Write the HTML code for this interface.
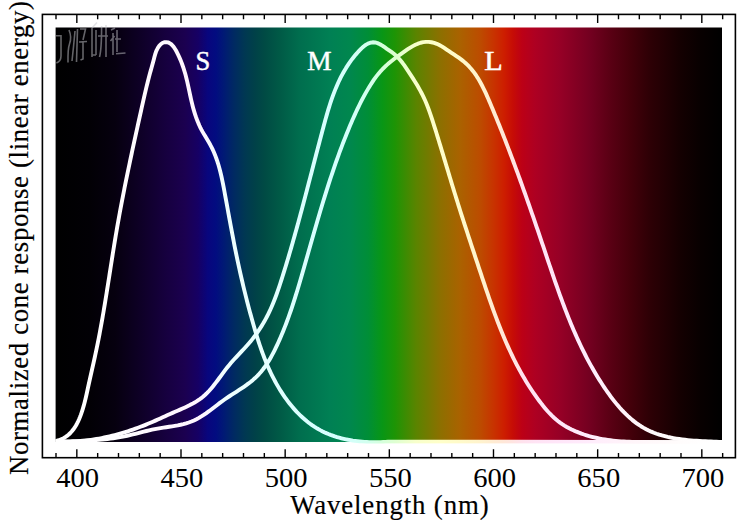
<!DOCTYPE html><html><head><meta charset="utf-8"><style>html,body{margin:0;padding:0;background:#fff;width:750px;height:528px;overflow:hidden}svg{display:block}</style></head><body><svg width="750" height="528" viewBox="0 0 750 528">
<defs><linearGradient id="g" x1="55.6" x2="722" y1="0" y2="0" gradientUnits="userSpaceOnUse"><stop offset="0.0006" stop-color="#000000"/><stop offset="0.0516" stop-color="#020005"/><stop offset="0.0891" stop-color="#06000f"/><stop offset="0.1267" stop-color="#0e0026"/><stop offset="0.1642" stop-color="#16003e"/><stop offset="0.1942" stop-color="#1b0050"/><stop offset="0.2137" stop-color="#160064"/><stop offset="0.2287" stop-color="#08067e"/><stop offset="0.2407" stop-color="#020c80"/><stop offset="0.2527" stop-color="#001a74"/><stop offset="0.2677" stop-color="#002a62"/><stop offset="0.2842" stop-color="#003852"/><stop offset="0.2992" stop-color="#004148"/><stop offset="0.3142" stop-color="#004b44"/><stop offset="0.3367" stop-color="#005a46"/><stop offset="0.3667" stop-color="#006e4e"/><stop offset="0.4118" stop-color="#008054"/><stop offset="0.4418" stop-color="#00874e"/><stop offset="0.4688" stop-color="#008e37"/><stop offset="0.4898" stop-color="#089616"/><stop offset="0.5093" stop-color="#1e9405"/><stop offset="0.5408" stop-color="#5a8400"/><stop offset="0.5768" stop-color="#8c7000"/><stop offset="0.6068" stop-color="#aa6200"/><stop offset="0.6369" stop-color="#bc4c00"/><stop offset="0.6579" stop-color="#c83200"/><stop offset="0.6729" stop-color="#cd1e00"/><stop offset="0.6864" stop-color="#c60c06"/><stop offset="0.6999" stop-color="#bc0016"/><stop offset="0.7194" stop-color="#ae0022"/><stop offset="0.7569" stop-color="#960026"/><stop offset="0.8019" stop-color="#730020"/><stop offset="0.8319" stop-color="#5a0014"/><stop offset="0.8619" stop-color="#44000a"/><stop offset="0.8920" stop-color="#2d0005"/><stop offset="0.9370" stop-color="#140001"/><stop offset="0.9670" stop-color="#080000"/><stop offset="1.0000" stop-color="#000000"/></linearGradient><linearGradient id="gs" x1="55.6" x2="722" y1="0" y2="0" gradientUnits="userSpaceOnUse"><stop offset="0.0006" stop-color="#ffffff"/><stop offset="0.0516" stop-color="#fffeff"/><stop offset="0.0891" stop-color="#fffdff"/><stop offset="0.1267" stop-color="#fffbff"/><stop offset="0.1642" stop-color="#fff8ff"/><stop offset="0.1942" stop-color="#fff6ff"/><stop offset="0.2137" stop-color="#fff6ff"/><stop offset="0.2287" stop-color="#f9f8ff"/><stop offset="0.2407" stop-color="#f5faff"/><stop offset="0.2527" stop-color="#f1feff"/><stop offset="0.2677" stop-color="#edffff"/><stop offset="0.2842" stop-color="#eaffff"/><stop offset="0.2992" stop-color="#e8ffff"/><stop offset="0.3142" stop-color="#e5ffff"/><stop offset="0.3367" stop-color="#e1ffff"/><stop offset="0.3667" stop-color="#daffff"/><stop offset="0.4118" stop-color="#d5ffff"/><stop offset="0.4418" stop-color="#d3fffa"/><stop offset="0.4688" stop-color="#d2ffee"/><stop offset="0.4898" stop-color="#d5ffdc"/><stop offset="0.5093" stop-color="#deffd1"/><stop offset="0.5408" stop-color="#f8ffcb"/><stop offset="0.5768" stop-color="#ffffc9"/><stop offset="0.6068" stop-color="#fffac9"/><stop offset="0.6369" stop-color="#fff3cd"/><stop offset="0.6579" stop-color="#ffebd2"/><stop offset="0.6729" stop-color="#ffe7d8"/><stop offset="0.6864" stop-color="#ffe4e1"/><stop offset="0.6999" stop-color="#ffe2ed"/><stop offset="0.7194" stop-color="#ffe3f4"/><stop offset="0.7569" stop-color="#ffe6f9"/><stop offset="0.8019" stop-color="#ffecfc"/><stop offset="0.8319" stop-color="#fff0fa"/><stop offset="0.8619" stop-color="#fff4f9"/><stop offset="0.8920" stop-color="#fff8fa"/><stop offset="0.9370" stop-color="#fffcfc"/><stop offset="0.9670" stop-color="#fffefe"/><stop offset="1.0000" stop-color="#ffffff"/></linearGradient><clipPath id="c"><rect x="55.6" y="27.5" width="666.4" height="416.0"/></clipPath></defs>
<rect width="750" height="528" fill="#fff"/>
<rect x="55.6" y="27.5" width="666.4" height="414.5" fill="url(#g)"/>
<g clip-path="url(#c)" fill="none" stroke="url(#gs)" stroke-width="3.9" stroke-linejoin="round" stroke-linecap="round"><path d="M45,441.35 L56.40,440.85 L58.80,440.21 L61.05,439.39 L63.17,438.40 L65.15,437.26 L67.01,435.96 L68.74,434.53 L70.36,432.98 L71.87,431.30 L73.28,429.53 L74.59,427.66 L75.81,425.71 L76.95,423.68 L78.00,421.60 L78.98,419.46 L79.89,417.28 L80.73,415.08 L81.52,412.85 L82.26,410.62 L82.95,408.39 L83.61,406.15 L84.22,403.92 L84.80,401.69 L85.35,399.45 L85.89,397.22 L86.40,394.98 L86.90,392.74 L87.39,390.51 L87.87,388.26 L88.36,386.02 L88.85,383.78 L89.35,381.53 L89.85,379.29 L90.35,377.04 L90.86,374.79 L91.37,372.53 L91.87,370.28 L92.38,368.02 L92.89,365.76 L93.40,363.50 L93.90,361.24 L94.40,358.98 L94.90,356.72 L95.39,354.45 L95.87,352.19 L96.35,349.92 L96.82,347.65 L97.29,345.38 L97.75,343.11 L98.20,340.84 L98.65,338.57 L99.09,336.29 L99.52,334.02 L99.95,331.74 L100.38,329.47 L100.80,327.19 L101.21,324.91 L101.62,322.63 L102.03,320.35 L102.43,318.07 L102.82,315.79 L103.22,313.51 L103.61,311.23 L103.99,308.94 L104.38,306.66 L104.76,304.37 L105.13,302.09 L105.51,299.80 L105.88,297.52 L106.25,295.23 L106.62,292.95 L106.98,290.66 L107.34,288.37 L107.71,286.09 L108.07,283.80 L108.43,281.51 L108.79,279.23 L109.15,276.94 L109.51,274.65 L109.86,272.36 L110.22,270.08 L110.58,267.79 L110.94,265.50 L111.30,263.21 L111.66,260.93 L112.02,258.64 L112.38,256.35 L112.74,254.07 L113.11,251.78 L113.48,249.49 L113.84,247.21 L114.22,244.92 L114.59,242.64 L114.96,240.35 L115.34,238.07 L115.72,235.79 L116.11,233.51 L116.50,231.22 L116.89,228.94 L117.28,226.66 L117.68,224.38 L118.09,222.10 L118.49,219.82 L118.90,217.55 L119.32,215.27 L119.73,212.99 L120.16,210.72 L120.58,208.44 L121.01,206.17 L121.44,203.89 L121.87,201.62 L122.31,199.35 L122.75,197.07 L123.19,194.80 L123.63,192.53 L124.08,190.26 L124.53,187.99 L124.99,185.72 L125.44,183.45 L125.90,181.18 L126.36,178.91 L126.83,176.64 L127.29,174.37 L127.76,172.10 L128.23,169.84 L128.70,167.57 L129.18,165.30 L129.65,163.04 L130.13,160.77 L130.61,158.50 L131.09,156.24 L131.58,153.97 L132.06,151.71 L132.55,149.44 L133.04,147.18 L133.53,144.91 L134.02,142.65 L134.51,140.38 L135.00,138.12 L135.50,135.86 L135.99,133.59 L136.49,131.33 L136.99,129.07 L137.49,126.80 L137.99,124.54 L138.49,122.28 L138.99,120.01 L139.49,117.75 L139.99,115.48 L140.50,113.22 L141.00,110.96 L141.50,108.69 L142.01,106.43 L142.51,104.17 L143.02,101.91 L143.53,99.65 L144.04,97.39 L144.56,95.13 L145.08,92.88 L145.61,90.63 L146.14,88.38 L146.68,86.14 L147.23,83.91 L147.78,81.68 L148.35,79.45 L148.92,77.24 L149.51,75.03 L150.11,72.83 L150.72,70.63 L151.33,68.43 L151.95,66.22 L152.57,63.98 L153.19,61.72 L153.81,59.41 L154.42,57.05 L155.07,54.68 L155.81,52.32 L156.73,50.04 L157.87,47.88 L159.21,45.93 L160.73,44.29 L162.42,43.05 L164.25,42.30 L166.15,42.08 L168.03,42.38 L169.79,43.19 L171.43,44.43 L172.96,46.04 L174.39,47.94 L175.71,50.05 L176.94,52.29 L178.08,54.59 L179.14,56.87 L180.13,59.12 L181.05,61.34 L181.90,63.54 L182.69,65.71 L183.43,67.88 L184.12,70.03 L184.77,72.19 L185.38,74.34 L185.96,76.51 L186.51,78.69 L187.04,80.88 L187.55,83.11 L188.05,85.35 L188.54,87.62 L189.03,89.90 L189.51,92.19 L190.00,94.48 L190.50,96.78 L191.01,99.08 L191.54,101.37 L192.09,103.64 L192.66,105.91 L193.25,108.16 L193.88,110.39 L194.54,112.60 L195.24,114.80 L195.97,116.98 L196.75,119.13 L197.58,121.27 L198.45,123.38 L199.38,125.48 L200.36,127.55 L201.40,129.59 L202.50,131.62 L203.65,133.62 L204.83,135.61 L206.02,137.60 L207.22,139.58 L208.41,141.57 L209.57,143.58 L210.69,145.60 L211.75,147.64 L212.76,149.71 L213.71,151.81 L214.61,153.92 L215.46,156.06 L216.26,158.22 L217.02,160.39 L217.74,162.59 L218.42,164.79 L219.06,167.01 L219.67,169.25 L220.25,171.50 L220.80,173.75 L221.33,176.02 L221.83,178.29 L222.32,180.57 L222.79,182.85 L223.24,185.14 L223.68,187.43 L224.11,189.72 L224.54,192.01 L224.96,194.30 L225.38,196.59 L225.80,198.87 L226.22,201.15 L226.64,203.43 L227.05,205.71 L227.47,207.99 L227.89,210.26 L228.30,212.53 L228.72,214.81 L229.13,217.08 L229.55,219.35 L229.97,221.61 L230.38,223.88 L230.80,226.15 L231.23,228.41 L231.65,230.68 L232.08,232.94 L232.51,235.21 L232.94,237.47 L233.37,239.73 L233.81,242.00 L234.25,244.26 L234.70,246.52 L235.15,248.79 L235.61,251.05 L236.07,253.32 L236.53,255.58 L237.00,257.85 L237.47,260.12 L237.96,262.38 L238.44,264.65 L238.93,266.92 L239.43,269.19 L239.94,271.46 L240.44,273.73 L240.96,276.00 L241.48,278.27 L242.01,280.54 L242.54,282.80 L243.07,285.07 L243.62,287.34 L244.16,289.60 L244.72,291.86 L245.28,294.12 L245.84,296.38 L246.41,298.64 L246.99,300.89 L247.57,303.15 L248.16,305.40 L248.75,307.64 L249.35,309.89 L249.95,312.13 L250.56,314.37 L251.17,316.60 L251.79,318.83 L252.42,321.06 L253.05,323.28 L253.69,325.50 L254.33,327.72 L254.98,329.93 L255.63,332.13 L256.30,334.33 L256.97,336.53 L257.66,338.72 L258.36,340.91 L259.07,343.09 L259.79,345.26 L260.53,347.43 L261.28,349.60 L262.05,351.75 L262.84,353.91 L263.64,356.05 L264.47,358.19 L265.31,360.32 L266.18,362.45 L267.06,364.57 L267.97,366.68 L268.91,368.79 L269.87,370.89 L270.85,372.98 L271.86,375.06 L272.90,377.14 L273.97,379.21 L275.07,381.27 L276.20,383.32 L277.36,385.36 L278.54,387.39 L279.76,389.40 L281.01,391.40 L282.29,393.38 L283.60,395.34 L284.94,397.28 L286.31,399.20 L287.71,401.09 L289.14,402.96 L290.60,404.80 L292.09,406.61 L293.61,408.38 L295.17,410.13 L296.75,411.84 L298.37,413.51 L300.01,415.15 L301.69,416.74 L303.40,418.29 L305.14,419.80 L306.91,421.27 L308.71,422.69 L310.54,424.06 L312.41,425.38 L314.30,426.65 L316.23,427.86 L318.19,429.02 L320.18,430.12 L322.20,431.17 L324.24,432.16 L326.32,433.10 L328.42,433.99 L330.55,434.83 L332.70,435.61 L334.87,436.35 L337.06,437.04 L339.27,437.68 L341.49,438.27 L343.74,438.82 L346.00,439.32 L348.27,439.78 L350.56,440.19 L352.85,440.57 L355.16,440.90 L357.48,441.19 L359.80,441.44 L362.13,441.66 L364.46,441.84 L366.79,441.98 L369.13,442.08 L371.47,442.15 L373.81,442.19 L376.14,442.20 L378.47,442.17 L380.80,442.11 L383.12,442.02 L385.43,441.91 L387.74,441.76 L390.03,441.59 L730,442.09"/><path d="M45,441.84 L55.97,441.34 L58.69,441.48 L61.40,441.57 L64.11,441.62 L66.82,441.63 L69.53,441.59 L72.23,441.51 L74.93,441.39 L77.63,441.23 L80.32,441.03 L83.01,440.79 L85.69,440.51 L88.37,440.20 L91.04,439.84 L93.71,439.45 L96.37,439.02 L99.03,438.56 L101.68,438.06 L104.32,437.53 L106.96,436.96 L109.59,436.36 L112.21,435.73 L114.82,435.06 L117.43,434.37 L120.03,433.64 L122.61,432.88 L125.19,432.10 L127.77,431.28 L130.33,430.44 L132.88,429.57 L135.42,428.67 L137.95,427.74 L140.47,426.79 L142.98,425.82 L145.48,424.82 L147.97,423.79 L150.45,422.75 L152.91,421.68 L155.37,420.60 L157.83,419.51 L160.28,418.41 L162.74,417.30 L165.19,416.19 L167.65,415.07 L170.12,413.97 L172.59,412.87 L175.07,411.78 L177.56,410.69 L180.06,409.61 L182.54,408.52 L185.01,407.41 L187.46,406.27 L189.88,405.08 L192.25,403.84 L194.58,402.55 L196.86,401.17 L199.07,399.72 L201.20,398.17 L203.26,396.52 L205.23,394.76 L207.14,392.92 L208.98,390.99 L210.76,388.98 L212.50,386.92 L214.20,384.80 L215.86,382.64 L217.51,380.46 L219.14,378.25 L220.76,376.03 L222.39,373.81 L224.03,371.60 L225.69,369.42 L227.38,367.27 L229.10,365.15 L230.86,363.08 L232.64,361.05 L234.45,359.04 L236.28,357.06 L238.12,355.10 L239.96,353.14 L241.80,351.18 L243.62,349.22 L245.44,347.25 L247.23,345.26 L248.99,343.24 L250.72,341.19 L252.41,339.11 L254.06,336.99 L255.67,334.83 L257.24,332.64 L258.76,330.42 L260.24,328.17 L261.68,325.89 L263.08,323.59 L264.43,321.25 L265.74,318.89 L267.01,316.51 L268.23,314.11 L269.41,311.68 L270.54,309.23 L271.63,306.77 L272.69,304.29 L273.71,301.79 L274.70,299.28 L275.65,296.76 L276.59,294.23 L277.49,291.68 L278.38,289.13 L279.24,286.57 L280.10,284.00 L280.93,281.43 L281.76,278.85 L282.58,276.28 L283.39,273.70 L284.19,271.12 L284.99,268.54 L285.78,265.96 L286.56,263.37 L287.34,260.79 L288.12,258.20 L288.89,255.62 L289.65,253.03 L290.41,250.44 L291.16,247.85 L291.91,245.26 L292.65,242.67 L293.39,240.08 L294.12,237.49 L294.85,234.89 L295.58,232.30 L296.30,229.70 L297.02,227.11 L297.73,224.51 L298.44,221.91 L299.15,219.31 L299.85,216.71 L300.56,214.11 L301.26,211.51 L301.95,208.91 L302.65,206.30 L303.34,203.70 L304.03,201.09 L304.72,198.49 L305.40,195.88 L306.09,193.28 L306.77,190.67 L307.45,188.06 L308.13,185.45 L308.81,182.84 L309.49,180.23 L310.17,177.62 L310.85,175.01 L311.53,172.40 L312.20,169.79 L312.88,167.17 L313.56,164.56 L314.24,161.95 L314.92,159.33 L315.60,156.72 L316.28,154.10 L316.96,151.49 L317.64,148.87 L318.33,146.25 L319.01,143.64 L319.70,141.02 L320.39,138.40 L321.08,135.78 L321.78,133.16 L322.47,130.55 L323.17,127.93 L323.88,125.31 L324.59,122.69 L325.30,120.08 L326.03,117.47 L326.78,114.86 L327.53,112.27 L328.30,109.68 L329.10,107.09 L329.91,104.52 L330.75,101.96 L331.61,99.41 L332.50,96.88 L333.42,94.35 L334.37,91.85 L335.36,89.36 L336.38,86.89 L337.44,84.43 L338.53,82.00 L339.68,79.59 L340.86,77.20 L342.09,74.83 L343.38,72.49 L344.71,70.18 L346.09,67.88 L347.54,65.62 L349.04,63.37 L350.61,61.15 L352.24,58.95 L353.95,56.77 L355.72,54.61 L357.57,52.48 L359.50,50.37 L361.51,48.34 L363.59,46.49 L365.74,44.88 L367.97,43.59 L370.26,42.72 L372.63,42.32 L375.05,42.48 L377.50,43.14 L379.94,44.21 L382.30,45.59 L384.59,47.17 L386.85,48.80 L389.14,50.37 L391.39,51.93 L393.56,53.54 L395.60,55.25 L397.51,57.07 L399.30,58.99 L400.99,60.99 L402.61,63.06 L404.17,65.19 L405.68,67.37 L407.18,69.59 L408.66,71.82 L410.15,74.08 L411.63,76.35 L413.10,78.64 L414.56,80.95 L415.99,83.27 L417.39,85.61 L418.76,87.98 L420.09,90.36 L421.38,92.75 L422.61,95.17 L423.80,97.61 L424.92,100.06 L425.99,102.53 L427.01,105.02 L427.98,107.52 L428.92,110.03 L429.83,112.55 L430.70,115.09 L431.55,117.63 L432.39,120.18 L433.21,122.74 L434.02,125.30 L434.83,127.86 L435.63,130.43 L436.43,133.00 L437.23,135.57 L438.02,138.15 L438.81,140.73 L439.60,143.31 L440.39,145.89 L441.17,148.47 L441.96,151.06 L442.74,153.64 L443.52,156.23 L444.30,158.82 L445.08,161.41 L445.86,163.99 L446.64,166.58 L447.42,169.17 L448.20,171.76 L448.98,174.35 L449.76,176.94 L450.54,179.53 L451.32,182.12 L452.11,184.70 L452.90,187.29 L453.69,189.87 L454.48,192.45 L455.28,195.03 L456.08,197.61 L456.88,200.19 L457.68,202.76 L458.49,205.33 L459.31,207.90 L460.12,210.47 L460.94,213.04 L461.76,215.60 L462.58,218.16 L463.41,220.73 L464.24,223.29 L465.07,225.85 L465.90,228.40 L466.74,230.96 L467.57,233.52 L468.41,236.08 L469.25,238.63 L470.10,241.19 L470.94,243.75 L471.78,246.30 L472.63,248.86 L473.48,251.42 L474.32,253.97 L475.17,256.53 L476.02,259.09 L476.87,261.65 L477.72,264.21 L478.57,266.77 L479.42,269.34 L480.28,271.90 L481.13,274.47 L481.98,277.03 L482.84,279.60 L483.69,282.17 L484.55,284.73 L485.42,287.30 L486.28,289.86 L487.16,292.43 L488.03,294.99 L488.92,297.55 L489.81,300.11 L490.70,302.66 L491.60,305.22 L492.51,307.77 L493.43,310.31 L494.36,312.85 L495.29,315.39 L496.24,317.92 L497.20,320.45 L498.16,322.98 L499.14,325.49 L500.13,328.01 L501.13,330.51 L502.15,333.01 L503.18,335.50 L504.22,337.99 L505.28,340.47 L506.35,342.94 L507.44,345.40 L508.54,347.86 L509.66,350.30 L510.80,352.74 L511.95,355.17 L513.12,357.58 L514.31,359.99 L515.52,362.39 L516.75,364.78 L518.00,367.15 L519.28,369.52 L520.57,371.87 L521.88,374.21 L523.22,376.54 L524.58,378.86 L525.96,381.16 L527.36,383.46 L528.79,385.73 L530.25,388.00 L531.73,390.25 L533.24,392.48 L534.77,394.70 L536.33,396.91 L537.92,399.10 L539.53,401.27 L541.18,403.43 L542.85,405.57 L544.57,407.67 L546.32,409.74 L548.11,411.77 L549.96,413.74 L551.85,415.66 L553.80,417.51 L555.80,419.30 L557.87,421.00 L560.01,422.62 L562.21,424.15 L564.47,425.60 L566.78,426.96 L569.15,428.25 L571.55,429.46 L574.00,430.60 L576.47,431.67 L578.97,432.67 L581.50,433.61 L584.04,434.49 L586.61,435.30 L589.19,436.06 L591.80,436.76 L594.41,437.41 L597.05,438.01 L599.69,438.55 L602.35,439.05 L605.02,439.50 L607.70,439.90 L610.38,440.26 L613.07,440.59 L615.77,440.87 L618.46,441.11 L621.16,441.33 L623.86,441.50 L626.56,441.65 L629.26,441.77 L631.95,441.86 L634.64,441.93 L637.32,441.97 L639.99,441.99 L730,442.49"/><path d="M45,442.03 L56.01,441.53 L58.84,441.50 L61.68,441.47 L64.52,441.43 L67.37,441.39 L70.23,441.33 L73.09,441.27 L75.96,441.19 L78.83,441.09 L81.71,440.98 L84.58,440.86 L87.46,440.71 L90.33,440.54 L93.20,440.35 L96.07,440.14 L98.94,439.90 L101.80,439.63 L104.66,439.34 L107.51,439.01 L110.35,438.66 L113.18,438.26 L116.00,437.84 L118.82,437.37 L121.62,436.87 L124.41,436.33 L127.18,435.74 L129.94,435.11 L132.69,434.45 L135.43,433.77 L138.18,433.07 L140.92,432.37 L143.67,431.67 L146.43,430.99 L149.20,430.33 L151.99,429.70 L154.80,429.11 L157.63,428.58 L160.49,428.09 L163.37,427.63 L166.25,427.20 L169.14,426.76 L172.02,426.31 L174.89,425.84 L177.74,425.32 L180.55,424.74 L183.34,424.09 L186.08,423.35 L188.77,422.51 L191.40,421.54 L193.97,420.45 L196.47,419.22 L198.93,417.88 L201.33,416.44 L203.70,414.91 L206.04,413.31 L208.35,411.65 L210.65,409.94 L212.94,408.20 L215.24,406.45 L217.53,404.68 L219.85,402.93 L222.18,401.20 L224.55,399.51 L226.94,397.86 L229.37,396.25 L231.80,394.66 L234.25,393.09 L236.69,391.52 L239.12,389.95 L241.53,388.36 L243.92,386.76 L246.26,385.12 L248.56,383.43 L250.80,381.70 L252.98,379.90 L255.08,378.04 L257.10,376.09 L259.04,374.06 L260.89,371.95 L262.67,369.76 L264.37,367.51 L266.00,365.19 L267.57,362.82 L269.08,360.40 L270.53,357.93 L271.93,355.42 L273.28,352.88 L274.59,350.31 L275.86,347.72 L277.09,345.11 L278.30,342.49 L279.47,339.86 L280.62,337.23 L281.75,334.58 L282.85,331.93 L283.92,329.28 L284.97,326.61 L286.01,323.94 L287.01,321.26 L288.00,318.58 L288.97,315.89 L289.93,313.19 L290.86,310.49 L291.78,307.79 L292.68,305.08 L293.57,302.36 L294.45,299.65 L295.31,296.92 L296.16,294.20 L297.00,291.47 L297.83,288.73 L298.65,286.00 L299.47,283.26 L300.27,280.52 L301.08,277.77 L301.87,275.03 L302.67,272.28 L303.46,269.53 L304.24,266.79 L305.03,264.04 L305.82,261.28 L306.60,258.53 L307.39,255.78 L308.17,253.03 L308.95,250.27 L309.74,247.52 L310.52,244.77 L311.31,242.01 L312.09,239.26 L312.88,236.51 L313.67,233.75 L314.46,231.00 L315.26,228.25 L316.06,225.50 L316.86,222.75 L317.66,220.00 L318.47,217.25 L319.28,214.51 L320.09,211.76 L320.91,209.02 L321.74,206.27 L322.57,203.53 L323.40,200.79 L324.24,198.06 L325.09,195.32 L325.94,192.59 L326.80,189.86 L327.67,187.13 L328.54,184.41 L329.42,181.69 L330.31,178.97 L331.21,176.25 L332.11,173.54 L333.03,170.83 L333.95,168.12 L334.88,165.42 L335.82,162.72 L336.77,160.02 L337.74,157.33 L338.71,154.64 L339.69,151.95 L340.68,149.27 L341.69,146.60 L342.70,143.92 L343.73,141.26 L344.77,138.59 L345.82,135.94 L346.89,133.28 L347.97,130.64 L349.06,127.99 L350.17,125.36 L351.29,122.72 L352.42,120.10 L353.57,117.48 L354.74,114.87 L355.93,112.26 L357.14,109.67 L358.37,107.09 L359.63,104.51 L360.91,101.96 L362.22,99.41 L363.56,96.88 L364.93,94.36 L366.34,91.87 L367.78,89.38 L369.25,86.92 L370.77,84.48 L372.33,82.08 L373.94,79.71 L375.60,77.39 L377.32,75.13 L379.11,72.93 L380.96,70.80 L382.88,68.74 L384.87,66.77 L386.93,64.86 L389.06,63.01 L391.24,61.21 L393.48,59.45 L395.76,57.72 L398.09,56.01 L400.46,54.31 L402.87,52.61 L405.31,50.91 L407.78,49.23 L410.28,47.63 L412.81,46.14 L415.38,44.81 L417.98,43.67 L420.62,42.77 L423.29,42.16 L426.00,41.87 L428.73,41.90 L431.45,42.25 L434.14,42.89 L436.77,43.81 L439.32,44.99 L441.79,46.39 L444.20,47.94 L446.60,49.57 L449.02,51.20 L451.46,52.82 L453.90,54.42 L456.33,56.04 L458.72,57.68 L461.06,59.37 L463.31,61.13 L465.46,62.97 L467.51,64.90 L469.45,66.92 L471.30,69.01 L473.06,71.18 L474.73,73.42 L476.32,75.73 L477.84,78.09 L479.30,80.51 L480.69,82.97 L482.03,85.48 L483.32,88.02 L484.57,90.60 L485.79,93.20 L486.97,95.83 L488.13,98.47 L489.27,101.12 L490.40,103.78 L491.52,106.44 L492.63,109.10 L493.74,111.76 L494.84,114.42 L495.94,117.08 L497.03,119.74 L498.11,122.40 L499.19,125.07 L500.26,127.73 L501.32,130.40 L502.38,133.07 L503.43,135.73 L504.48,138.40 L505.52,141.07 L506.56,143.74 L507.59,146.41 L508.62,149.09 L509.64,151.76 L510.66,154.43 L511.67,157.11 L512.68,159.78 L513.68,162.46 L514.68,165.14 L515.67,167.82 L516.66,170.50 L517.65,173.18 L518.63,175.86 L519.61,178.54 L520.58,181.23 L521.55,183.91 L522.52,186.60 L523.48,189.29 L524.44,191.97 L525.39,194.66 L526.35,197.35 L527.30,200.05 L528.24,202.74 L529.19,205.43 L530.13,208.13 L531.07,210.82 L532.00,213.52 L532.94,216.22 L533.87,218.92 L534.80,221.62 L535.73,224.32 L536.65,227.03 L537.58,229.73 L538.50,232.44 L539.42,235.14 L540.34,237.85 L541.25,240.56 L542.17,243.27 L543.08,245.99 L544.00,248.70 L544.91,251.41 L545.82,254.13 L546.73,256.85 L547.64,259.56 L548.56,262.28 L549.47,265.00 L550.39,267.71 L551.31,270.43 L552.24,273.14 L553.16,275.85 L554.10,278.57 L555.03,281.28 L555.98,283.98 L556.93,286.69 L557.88,289.39 L558.84,292.09 L559.81,294.79 L560.79,297.48 L561.78,300.17 L562.77,302.85 L563.78,305.53 L564.79,308.21 L565.82,310.88 L566.86,313.54 L567.91,316.20 L568.97,318.86 L570.04,321.51 L571.13,324.15 L572.23,326.78 L573.35,329.41 L574.48,332.03 L575.63,334.64 L576.79,337.25 L577.97,339.85 L579.17,342.44 L580.38,345.02 L581.62,347.59 L582.87,350.15 L584.14,352.71 L585.43,355.25 L586.74,357.79 L588.07,360.31 L589.43,362.83 L590.80,365.33 L592.20,367.82 L593.62,370.31 L595.06,372.78 L596.53,375.24 L598.02,377.68 L599.54,380.12 L601.09,382.54 L602.66,384.96 L604.25,387.35 L605.88,389.74 L607.53,392.11 L609.21,394.46 L610.92,396.80 L612.66,399.10 L614.44,401.38 L616.26,403.62 L618.11,405.83 L619.99,407.99 L621.92,410.11 L623.89,412.18 L625.90,414.19 L627.96,416.15 L630.06,418.05 L632.21,419.87 L634.40,421.63 L636.65,423.32 L638.95,424.93 L641.30,426.46 L643.70,427.90 L646.16,429.25 L648.68,430.51 L651.26,431.67 L653.88,432.75 L656.56,433.74 L659.27,434.64 L662.03,435.47 L664.83,436.22 L667.65,436.91 L670.50,437.53 L673.38,438.08 L676.27,438.58 L679.18,439.03 L682.10,439.42 L685.02,439.77 L687.95,440.08 L690.88,440.36 L693.79,440.60 L696.70,440.81 L699.59,440.99 L702.47,441.16 L705.32,441.31 L708.14,441.44 L710.93,441.57 L713.69,441.69 L716.41,441.81 L719.08,441.94 L721.70,442.07 L730,442.57"/></g>
<path d="M56,35.7 L61,35.7 L61,56 C61,59 59,62 56.4,63 M69,30 C71.5,36 71,40 69.5,44 C68,48 67.8,52 68,62.5 M75,31 C74,42 73,52 72,61 M77.5,29 L76.5,62 M80,29 L85.5,29 L83,40 M79,42 L87,41.5 M83,42 L83,59 L80.5,60 M97,22.5 L92,28 M92,28 L92,57 M96,30 L96,55 M92,55 L96,55 M98,36 L108,36 M101.6,26 C101.6,40 101.5,50 99.5,57 M106,25 L106,57 M111,30 L115,28 M113,33 L113,55 M110.5,41 L114.5,36 M117,30 L117,52 M115,39 L121,39 M116,53.7 L125.5,53" fill="none" stroke="rgb(200,200,206)" stroke-opacity="0.5" stroke-width="1.6"/>
<rect x="42.4" y="14.4" width="693" height="443.3" fill="none" stroke="#000" stroke-width="1.6"/>
<path d="M56.00,457.7V452.90M56.00,14.4V19.20M76.83,457.7V449.20M76.83,14.4V22.90M97.67,457.7V452.90M97.67,14.4V19.20M118.50,457.7V452.90M118.50,14.4V19.20M139.33,457.7V452.90M139.33,14.4V19.20M160.16,457.7V452.90M160.16,14.4V19.20M181.00,457.7V449.20M181.00,14.4V22.90M201.83,457.7V452.90M201.83,14.4V19.20M222.66,457.7V452.90M222.66,14.4V19.20M243.50,457.7V452.90M243.50,14.4V19.20M264.33,457.7V452.90M264.33,14.4V19.20M285.16,457.7V449.20M285.16,14.4V22.90M306.00,457.7V452.90M306.00,14.4V19.20M326.83,457.7V452.90M326.83,14.4V19.20M347.66,457.7V452.90M347.66,14.4V19.20M368.50,457.7V452.90M368.50,14.4V19.20M389.33,457.7V449.20M389.33,14.4V22.90M410.16,457.7V452.90M410.16,14.4V19.20M430.99,457.7V452.90M430.99,14.4V19.20M451.83,457.7V452.90M451.83,14.4V19.20M472.66,457.7V452.90M472.66,14.4V19.20M493.49,457.7V449.20M493.49,14.4V22.90M514.33,457.7V452.90M514.33,14.4V19.20M535.16,457.7V452.90M535.16,14.4V19.20M555.99,457.7V452.90M555.99,14.4V19.20M576.82,457.7V452.90M576.82,14.4V19.20M597.66,457.7V449.20M597.66,14.4V22.90M618.49,457.7V452.90M618.49,14.4V19.20M639.32,457.7V452.90M639.32,14.4V19.20M660.16,457.7V452.90M660.16,14.4V19.20M680.99,457.7V452.90M680.99,14.4V19.20M701.82,457.7V449.20M701.82,14.4V22.90M722.66,457.7V452.90M722.66,14.4V19.20" stroke="#000" stroke-width="1.4" fill="none"/>
<g font-family="Liberation Serif" font-size="26.8" fill="#000"><text transform="translate(77.60,486.7) scale(1.065,1)" text-anchor="middle">400</text><text transform="translate(181.83,486.7) scale(1.065,1)" text-anchor="middle">450</text><text transform="translate(286.06,486.7) scale(1.065,1)" text-anchor="middle">500</text><text transform="translate(390.29,486.7) scale(1.065,1)" text-anchor="middle">550</text><text transform="translate(494.52,486.7) scale(1.065,1)" text-anchor="middle">600</text><text transform="translate(598.75,486.7) scale(1.065,1)" text-anchor="middle">650</text><text transform="translate(702.98,486.7) scale(1.065,1)" text-anchor="middle">700</text><g stroke="#000" stroke-width="0.18">
<text x="290.2" y="513.6" textLength="198.4" lengthAdjust="spacing">Wavelength (nm)</text>
<text transform="translate(27.5,475) rotate(-90)" textLength="474" lengthAdjust="spacing">Normalized cone response (linear energy)</text>
</g></g>
<g font-family="Liberation Serif" font-size="26.8" fill="url(#gs)" stroke="url(#gs)" stroke-width="0.45">
<text transform="translate(195.6,70.3) scale(0.99,1)">S</text><text transform="translate(307.2,69.9) scale(1.02,1)">M</text><text transform="translate(484.2,70.1) scale(1.13,1)">L</text></g>
</svg></body></html>
